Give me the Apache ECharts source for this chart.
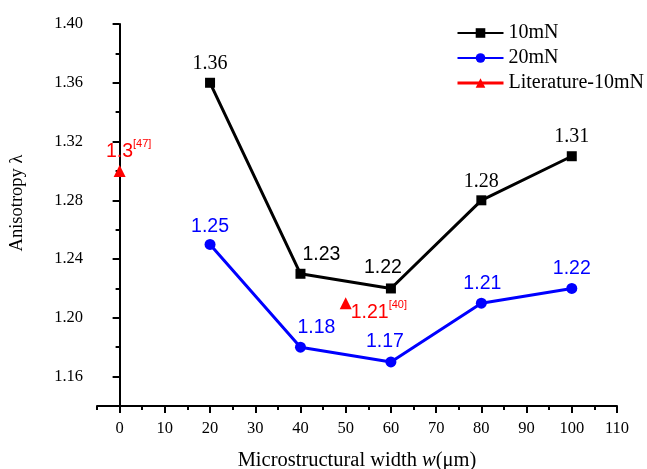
<!DOCTYPE html>
<html><head><meta charset="utf-8">
<script src="https://cdn.jsdelivr.net/npm/echarts@6/dist/echarts.min.js"></script>
<style>html,body{margin:0;padding:0;background:#fff}#c{width:647px;height:469px}</style>
</head><body><div id="c"></div>
<script>
const widths = [20, 40, 60, 80, 100];
const load10 = [1.36, 1.23, 1.22, 1.28, 1.31];
const load20 = [1.25, 1.18, 1.17, 1.21, 1.22];
const litX = [0, 50];
const litY = [1.30, 1.21];
const litRef = ['[47]', '[40]'];
const seriesNames = ['10mN', '20mN', 'Literature-10mN'];

const serif = 'Liberation Serif';
const sans = 'Liberation Sans';
const chart = echarts.init(document.getElementById('c'));

// layout
const G = { left: 97, right: 30, top: 24, bottom: 63 };
const H = 469, W = 647;
const xMin = -5, xMax = 110, yMin = 1.14, yMax = 1.40;
const plotW = W - G.left - G.right, plotH = H - G.top - G.bottom;
const yMajorMin = 1.16, xMajorMin = 0;
const yMajorBottom = G.bottom + (yMajorMin - yMin) / (yMax - yMin) * plotH;
const xMajorLeft = G.left + (xMajorMin - xMin) / (xMax - xMin) * plotW;

const off10 = [[0, 0], [21, 0], [-8, -2], [0, 0], [0, 0]];
const serif10 = [true, false, false, true, true];
const off20 = [[0, 2], [16, 0], [-6, -1], [1, 0], [0, 0]];

const data10 = widths.map((x, i) => ({
  value: [x, load10[i]],
  label: { offset: off10[i], fontFamily: serif10[i] ? serif : sans, fontSize: serif10[i] ? 20 : 19.5 }
}));
const data20 = widths.map((x, i) => ({ value: [x, load20[i]], label: { offset: off20[i] } }));
const litData = litX.map((x, i) => ({
  value: [x, litY[i]],
  label: i === 0
    ? { position: 'top', offset: [9, 3] }
    : { position: 'right', offset: [-5, 9] }
}));

const axisColor = '#000';
chart.setOption({
  animation: false,
  grid: [
    { left: G.left, right: G.right, top: G.top, bottom: G.bottom, outerBoundsMode: 'none', containLabel: false },
    { left: G.left, right: G.right, top: G.top, bottom: yMajorBottom, outerBoundsMode: 'none', containLabel: false },
    { left: xMajorLeft, right: G.right, top: G.top, bottom: G.bottom, outerBoundsMode: 'none', containLabel: false }
  ],
  legend: {
    top: 18, left: 451, orient: 'vertical', itemGap: 5,
    itemWidth: 46, itemHeight: 12,
    textStyle: { fontFamily: serif, fontSize: 20, color: '#000' },
    data: [
      { name: '10mN' },
      { name: '20mN' },
      { name: 'Literature-10mN', lineStyle: { width: 3, opacity: 1, color: '#ff0000' } }
    ]
  },
  xAxis: [
    {
      gridIndex: 0, type: 'value', min: xMin, max: xMax, interval: 5,
      name: '{n|Microstructural width }{i|w}{n|(μm)}',
      nameLocation: 'middle', nameGap: 44,
      nameTextStyle: { rich: {
        n: { fontFamily: serif, fontSize: 20.5, color: '#000' },
        i: { fontFamily: serif, fontSize: 20.5, fontStyle: 'italic', color: '#000' } } },
      axisLine: { lineStyle: { color: axisColor, width: 2 } },
      axisTick: { show: true, inside: false, length: 4, lineStyle: { width: 2, color: axisColor } },
      axisLabel: { show: false },
      splitLine: { show: false }
    },
    { gridIndex: 1, type: 'value', min: xMin, max: xMax, show: false },
    {
      gridIndex: 2, type: 'value', min: xMajorMin, max: xMax, interval: 10,
      axisLine: { show: false },
      axisTick: { show: true, inside: false, length: 7, lineStyle: { width: 2, color: axisColor } },
      axisLabel: { fontFamily: serif, fontSize: 16.5, color: '#000', margin: 14 },
      splitLine: { show: false }
    }
  ],
  yAxis: [
    {
      gridIndex: 0, type: 'value', min: yMin, max: yMax, interval: 0.02,
      name: 'Anisotropy λ', nameLocation: 'middle', nameGap: 70,
      nameTextStyle: { fontFamily: serif, fontSize: 18.5, color: '#000', padding: [0, 0, 0, 24] },
      axisLine: { show: true, lineStyle: { color: axisColor, width: 2 } },
      axisTick: { show: true, inside: false, length: 4, lineStyle: { width: 2, color: axisColor } },
      axisLabel: { show: false },
      splitLine: { show: false }
    },
    {
      gridIndex: 1, type: 'value', min: yMajorMin, max: yMax, interval: 0.04,
      axisLine: { show: false },
      axisTick: { show: true, inside: false, length: 7, lineStyle: { width: 2, color: axisColor } },
      axisLabel: { fontFamily: serif, fontSize: 16.5, color: '#000', margin: 14,
        formatter: v => v.toFixed(2) },
      splitLine: { show: false }
    },
    { gridIndex: 2, type: 'value', min: yMin, max: yMax, show: false }
  ],
  series: [
    {
      name: seriesNames[0], type: 'line', data: data10, xAxisIndex: 0, yAxisIndex: 0,
      symbol: 'rect', symbolSize: 10,
      itemStyle: { color: '#000' }, lineStyle: { color: '#000', width: 3 },
      label: { show: true, position: 'top', distance: 4, color: '#000',
        formatter: p => p.value[1].toFixed(2) }
    },
    {
      name: seriesNames[1], type: 'line', data: data20, xAxisIndex: 0, yAxisIndex: 0,
      symbol: 'circle', symbolSize: 11,
      itemStyle: { color: '#0000ff' }, lineStyle: { color: '#0000ff', width: 3 },
      label: { show: true, position: 'top', distance: 4, fontFamily: sans, fontSize: 19.5, color: '#0000ff',
        formatter: p => p.value[1].toFixed(2) }
    },
    {
      name: seriesNames[2], type: 'line', data: litData, xAxisIndex: 0, yAxisIndex: 0,
      symbol: 'triangle', symbolSize: 12,
      itemStyle: { color: '#ff0000' }, lineStyle: { color: '#ff0000', width: 3, opacity: 0 },
      label: { show: true, distance: 4, color: '#ff0000',
        formatter: p => '{a|' + String(+p.value[1].toFixed(2)) + '}{s|' + litRef[p.dataIndex] + '}',
        rich: {
          a: { fontFamily: sans, fontSize: 19.5, color: '#ff0000', lineHeight: 24 },
          s: { fontFamily: sans, fontSize: 11, color: '#ff0000', verticalAlign: 'top', padding: [0, 0, 14, 0] }
        } }
    }
  ]
});
</script></body></html>
